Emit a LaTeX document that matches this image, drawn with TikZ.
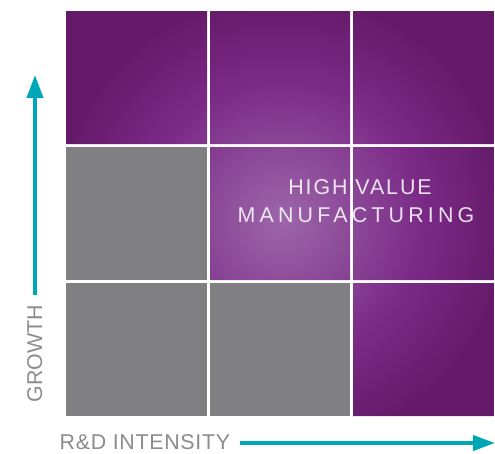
\documentclass[tikz,border=0pt]{standalone}
\usepackage{fontspec}
\setmainfont{Liberation Sans}
\usetikzlibrary{arrows.meta}
\definecolor{hvlight}{HTML}{9C66AA}
\definecolor{hvmidA}{HTML}{8A4696}
\definecolor{hvmidB}{HTML}{7A2A86}
\definecolor{hvdark}{HTML}{651A69}
\definecolor{cellgray}{HTML}{808082}
\definecolor{axisteal}{HTML}{00A7B6}
\definecolor{labelgray}{HTML}{8C8C8E}
\pgfdeclareradialshading{hvmshade}{\pgfpoint{0bp}{0bp}}{color(0bp)=(hvlight); color(6bp)=(hvmidA); color(11bp)=(hvmidB); color(17.5bp)=(hvdark); color(50bp)=(hvdark)}
\tikzset{
  graycell/.style={fill=cellgray},
  axisarrow/.style={draw=axisteal, line width=4pt, -{Triangle[length=23pt,width=16pt]}},
  axislabel/.style={text=labelgray, font=\fontsize{21.4}{24}\selectfont, inner sep=0pt, text height=15.3pt, text depth=0pt},
  hvtext/.style={text=white, text opacity=0.85, font=\fontsize{21.4}{24}\selectfont, inner sep=0pt, text height=15.3pt, text depth=0pt}
}
\begin{document}
\begin{tikzpicture}[x=1pt,y=-1pt]
\useasboundingbox (0,0) rectangle (495,453);
% purple cells with one radial glow
\begin{scope}
  \clip (66,11) rectangle (207,144)
        (210,11) rectangle (350,144)
        (353,11) rectangle (494,144)
        (210,147) rectangle (350,280)
        (353,147) rectangle (494,280)
        (353,283) rectangle (494,416);
  \shade[shading=hvmshade] (-38,-100) rectangle (602,540);
\end{scope}
% gray cells
\fill[graycell] (66,147) rectangle (207,280);
\fill[graycell] (66,283) rectangle (207,416);
\fill[graycell] (210,283) rectangle (350,416);
% text
\node[hvtext] (hv1) at (360,187) {\addfontfeatures{LetterSpace=9}HIGH VALUE};
\node[hvtext] (hv2) at (356,214.5) {\addfontfeatures{LetterSpace=19.5}MANUFACTURING};
% axes
\coordinate (ytail) at (35,295);
\coordinate (ytip) at (35,75);
\coordinate (xtail) at (240,443);
\coordinate (xtip) at (495,443);
\draw[axisarrow] (ytail) -- (ytip);
\draw[axisarrow, -{Triangle[length=22pt,width=15pt]}] (xtail) -- (xtip);
\node[axislabel, rotate=90] (growth) at (34.5,353.5) {GROWTH};
\node[axislabel, anchor=west] (rnd) at (59.5,442) {\addfontfeatures{LetterSpace=3.2}R\&D INTENSITY};
\end{tikzpicture}
\end{document}
